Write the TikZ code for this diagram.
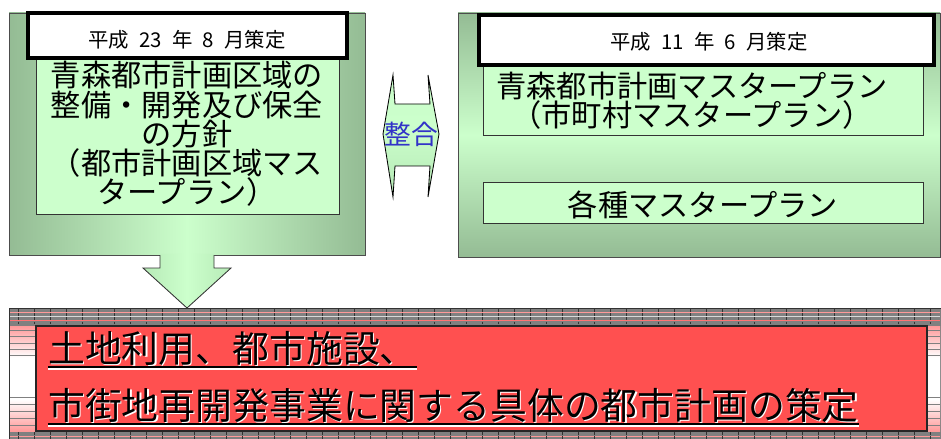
\documentclass[tikz,border=0pt]{standalone}
\usepackage{fontspec}
\setmainfont{Noto Sans CJK JP}
\usetikzlibrary{fit}
\definecolor{gdark}{HTML}{5C785C}
\definecolor{glight}{HTML}{CCFFCC}
\definecolor{gmid}{HTML}{A2D6A2}
\definecolor{planred}{HTML}{FF5050}
\definecolor{framegray}{HTML}{808080}
\definecolor{framepink}{HTML}{FF9A9A}
\definecolor{chouwa}{HTML}{3232C8}
\pgfdeclarehorizontalshading{sideglow}{100bp}{color(0bp)=(gdark); color(50bp)=(glight); color(100bp)=(gdark)}
\pgfdeclareverticalshading{midglow}{100bp}{color(0bp)=(gdark); color(50bp)=(glight); color(100bp)=(gdark)}
\pgfdeclarehorizontalshading{arrowglow}{100bp}{color(0bp)=(gmid); color(50bp)=(glight); color(100bp)=(gmid)}
\pgfdeclareverticalshading{tieglow}{100bp}{color(0bp)=(gmid); color(55bp)=(glight); color(100bp)=(glight!85!gmid)}
\pgfdeclareverticalshading{bandglow}{100bp}{color(0bp)=(framegray); color(25bp)=(framepink); color(40bp)=(white); color(60bp)=(white); color(75bp)=(framepink); color(100bp)=(framegray)}
\newcommand\shadowed[1]{\leavevmode\rlap{\kern0.8pt\raisebox{-0.8pt}{\textcolor{white}{#1}}}#1}

\begin{document}
\begin{tikzpicture}[x=0.025cm,y=-0.025cm,
  outer/.style={shade,draw=black!70,line width=0.6pt,inner sep=0pt},
  inner/.style={fill=glight,draw=black!80,line width=0.5pt,inner sep=0pt},
  stamp/.style={fill=white,draw=black,line width=3.2pt,inner sep=0pt},
  stamptext/.style={font=\fontsize{14.5pt}{16pt}\selectfont,inner sep=0pt},
  plantext/.style={font=\fontsize{21.5pt}{20.8pt}\selectfont,align=center,inner sep=0pt},
  redtext/.style={font=\fontsize{26.2pt}{28pt}\selectfont,anchor=base west,inner sep=0pt},
  uline/.style={line width=1.4pt}]
\useasboundingbox (0,0) rectangle (941,439);

% upper blocks
\node[outer,shading=sideglow,fit={(9,13) (365,255)}] (pref) {};
\node[outer,shading=midglow,fit={(458,13) (940,257)}] (city) {};
\node[inner,fit={(36,57) (339,214)}] (prefplan) {};
\node[plantext] (preftext) at (187,134) {青森都市計画区域の\\整備・開発及び保全\\の方針\\（都市計画区域マス\\タープラン）};
\node[inner,fit={(483,60) (923,135)}] (cityplan) {};
\node[plantext] (citytext) at (692,101) {青森都市計画マスタープラン\\（市町村マスタープラン）};
\node[inner,fit={(483,182) (923,223)}] (various) {};
\node[plantext] (varioustext) at (703,205) {各種マスタープラン};
\node[stamp,fit={(28,13) (347,58)}] (prefdate) {};
\node[stamptext] (prefdatetext) at (187,40) {平成\enspace 23\enspace 年\enspace 8\enspace 月策定};
\node[stamp,fit={(479,15) (934,65)}] (citydate) {};
\node[stamptext] (citydatetext) at (709,42) {平成\enspace 11\enspace 年\enspace 6\enspace 月策定};

% down arrow out of the prefecture block
\path[shade,shading=arrowglow] (160,254) -- (160,268) -- (143,268) -- (187,308) -- (231,268) -- (214,268) -- (214,254) -- cycle;
\draw[black!80,line width=0.6pt] (160,255) -- (160,268) -- (143,268) -- (187,308) -- (231,268) -- (214,268) -- (214,255);

% two-way arrow between the blocks
\path[shade,shading=tieglow,draw=black,line width=0.6pt] (383,134) -- (393,75) -- (395,104) -- (430,104) -- (428,75) -- (439,134)
  -- (428,197) -- (430,166) -- (395,166) -- (393,197) -- cycle;
\node[font=\fontsize{19pt}{20pt}\selectfont,text=chouwa,inner sep=0pt] (tie) at (411,134) {整合};

% red block and its striped frame
\node[draw=black!80,line width=0.5pt,fill=framegray,inner sep=0pt,fit={(9,308) (941,439)}] (frame) {};
\foreach \yy/\cc in {312/framepink,316/white!70!framegray,320/planred!80!white,436/framepink}
  \draw[\cc,line width=0.4pt] (10,\yy) -- (940,\yy);
\shade[shading=bandglow] (10,326) rectangle (36,431);
\shade[shading=bandglow] (927,326) rectangle (940,431);
\foreach \yy in {330,336,343,349,355,397,404,411,418,425}
{
  \draw[framegray,line width=0.6pt] (10,\yy) -- (36,\yy);
  \draw[framegray,line width=0.6pt] (927,\yy) -- (940,\yy);
}
\foreach \xx in {18,34,...,930}
{
  \draw[black!80,line width=0.5pt,dash pattern=on 2pt off 1pt] (\xx,309) -- (\xx,325);
  \draw[black!80,line width=0.5pt,dash pattern=on 2pt off 1pt] (\xx,432) -- (\xx,439);
}
\node[fill=planred,draw=black!85,line width=0.8pt,inner sep=0pt,fit={(36,326) (927,431)}] (plan) {};
\node[redtext] (use) at (48,362) {\shadowed{土地利用、都市施設、}};
\node[redtext] (project) at (48,419) {\shadowed{市街地再開発事業に関する具体の都市計画の策定}};
\draw[uline,white] ([yshift=-5.2pt]use.base west) -- ([yshift=-5.2pt]use.base east);
\draw[uline,black] ([yshift=-3.6pt]use.base west) -- ([yshift=-3.6pt]use.base east);
\draw[uline,white] ([yshift=-5.2pt]project.base west) -- ([yshift=-5.2pt]project.base east);
\draw[uline,black] ([yshift=-3.6pt]project.base west) -- ([yshift=-3.6pt]project.base east);
\end{tikzpicture}
\end{document}
